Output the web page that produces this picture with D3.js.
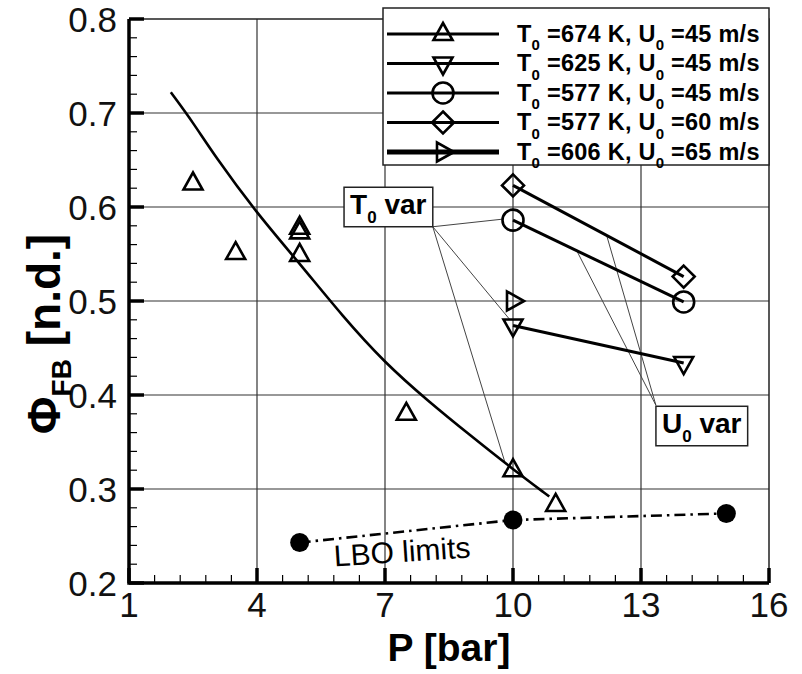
<!DOCTYPE html>
<html>
<head>
<meta charset="utf-8">
<script src="https://cdn.jsdelivr.net/npm/d3@7"></script>
<style>
  html, body { margin: 0; padding: 0; background: #fff; }
  svg { display: block; font-family: "Liberation Sans", Arial, sans-serif; }
</style>
</head>
<body>
<div id="chart"></div>
<script>
// Series: T0=674 K, U0=45 m/s (upward triangles)
const triP   = [2.5, 3.5, 5, 5, 5, 7.5, 10, 11];
const triPhi = [0.625, 0.551, 0.578, 0.573, 0.549, 0.38, 0.32, 0.283];

// Fitted trend drawn through the 674 K points
const fitP   = [1.98, 2.5, 3, 4, 5, 6, 7, 8, 9, 10, 10.85];
const fitPhi = [0.722, 0.69, 0.655, 0.593, 0.54, 0.484, 0.434, 0.394, 0.357, 0.321, 0.292];

// T0=625 K, U0=45 m/s (downward triangles)
const dtriP   = [10, 14];
const dtriPhi = [0.474, 0.434];

// T0=577 K, U0=45 m/s (circles)
const circP   = [10, 14];
const circPhi = [0.586, 0.499];

// T0=577 K, U0=60 m/s (diamonds)
const diamP   = [10, 14];
const diamPhi = [0.623, 0.526];

// T0=606 K, U0=65 m/s (right triangles)
const rtriP   = [10];
const rtriPhi = [0.5];

// LBO limits (filled circles, dash-dot)
const lboP   = [5, 10, 15];
const lboPhi = [0.243, 0.267, 0.274];

const xTicks = [1, 4, 7, 10, 13, 16];
const yTicks = [0.2, 0.3, 0.4, 0.5, 0.6, 0.7, 0.8];

const legendLabels = [
  ['674', '45'], ['625', '45'], ['577', '45'], ['577', '60'], ['606', '65']
];
const legendShapes = ['up', 'down', 'circle', 'diamond', 'right'];

const W = 802, H = 674;
const x = d3.scaleLinear().domain([1, 16]).range([129, 769]);
const y = d3.scaleLinear().domain([0.2, 0.8]).range([583, 19]);

const svg = d3.select('#chart').append('svg')
  .attr('width', W).attr('height', H);
svg.append('rect').attr('width', W).attr('height', H).attr('fill', '#fff');

// marker outlines, centred on 0,0
function markerPath(shape) {
  switch (shape) {
    case 'up': return 'M0,-11L9.5,6L-9.5,6Z';
    case 'down': return 'M0,11L9.5,-6L-9.5,-6Z';
    case 'right': return 'M11,0L-6,9.5L-6,-9.5Z';
    case 'diamond': return 'M0,-11L11,0L0,11L-11,0Z';
    case 'circle': return 'M10.5,0A10.5,10.5 0 1 1 -10.5,0A10.5,10.5 0 1 1 10.5,0Z';
  }
}

// grid
const grid = svg.append('g').attr('stroke', '#333').attr('stroke-width', 1.2);
grid.selectAll('.gx').data(xTicks.slice(1, -1)).join('line')
  .attr('x1', d => x(d)).attr('x2', d => x(d))
  .attr('y1', y(0.2)).attr('y2', y(0.8));
grid.selectAll('.gy').data(yTicks.slice(1, -1)).join('line')
  .attr('x1', x(1)).attr('x2', x(16))
  .attr('y1', d => y(d)).attr('y2', d => y(d));

// frame top/right
svg.append('path')
  .attr('d', `M${x(1)},${y(0.8)}H${x(16)}V${y(0.2)}`)
  .attr('fill', 'none').attr('stroke', '#222').attr('stroke-width', 1.5);

// minor ticks
const xMinor = d3.range(0, 25).map(i => 1 + i * 0.6).filter(v => v <= 16.001);
const yMinor = d3.range(0, 31).map(i => 0.2 + i * 0.02);
const ticks = svg.append('g').attr('stroke', '#000');
ticks.selectAll('.xm').data(xMinor).join('line')
  .attr('stroke-width', 1.2)
  .attr('x1', d => x(d)).attr('x2', d => x(d))
  .attr('y1', y(0.2)).attr('y2', y(0.2) - 8);
ticks.selectAll('.ym').data(yMinor).join('line')
  .attr('stroke-width', 1.2)
  .attr('y1', d => y(d)).attr('y2', d => y(d))
  .attr('x1', x(1)).attr('x2', x(1) + 8);
ticks.selectAll('.xM').data(xTicks).join('line')
  .attr('stroke-width', 3.5)
  .attr('x1', d => x(d)).attr('x2', d => x(d))
  .attr('y1', y(0.2)).attr('y2', y(0.2) - 15);
ticks.selectAll('.yM').data(yTicks).join('line')
  .attr('stroke-width', 3.5)
  .attr('y1', d => y(d)).attr('y2', d => y(d))
  .attr('x1', x(1)).attr('x2', x(1) + 15);

// main axis lines
svg.append('path')
  .attr('d', `M${x(1)},${y(0.8)}V${y(0.2)}H${x(16)}`)
  .attr('fill', 'none').attr('stroke', '#000').attr('stroke-width', 3.5);

// tick labels
svg.append('g').selectAll('text').data(yTicks).join('text')
  .attr('x', x(1) - 12).attr('y', d => y(d)).attr('dy', '0.36em')
  .attr('text-anchor', 'end').style('font-size', '35px').attr('fill', '#111')
  .text(d => d.toFixed(1));
svg.append('g').selectAll('text').data(xTicks).join('text')
  .attr('x', d => x(d)).attr('y', y(0.2) + 34)
  .attr('text-anchor', 'middle').style('font-size', '35px').attr('fill', '#111')
  .text(d => d);

// axis titles
svg.append('text')
  .attr('x', 449).attr('y', 661).attr('text-anchor', 'middle')
  .style('font-size', '39px').style('font-weight', '700')
  .text('P [bar]');
const yt = svg.append('text')
  .attr('transform', 'translate(60,334) rotate(-90)')
  .attr('text-anchor', 'middle')
  .style('font-size', '46px').style('font-weight', '700');
yt.append('tspan').text('Φ');
yt.append('tspan').attr('dy', 11).style('font-size', '28px').text('FB');
yt.append('tspan').attr('dy', -11).text(' [n.d.]');

// leader lines for annotations
const leaders = svg.append('g').attr('stroke', '#444').attr('stroke-width', 1);
const t0Corner = [8.12, 0.579];
const t0Targets = [[9.74, 0.587], [9.93, 0.48], [9.82, 0.327]];
leaders.selectAll('.t0').data(t0Targets).join('line')
  .attr('x1', x(t0Corner[0])).attr('y1', y(t0Corner[1]))
  .attr('x2', d => x(d[0])).attr('y2', d => y(d[1]));
const u0Corner = [13.35, 0.389];
const u0Targets = [[11.5, 0.553], [12.2, 0.569]];
leaders.selectAll('.u0').data(u0Targets).join('line')
  .attr('x1', x(u0Corner[0])).attr('y1', y(u0Corner[1]))
  .attr('x2', d => x(d[0])).attr('y2', d => y(d[1]));

// trend curve
svg.append('path')
  .datum(d3.zip(fitP, fitPhi))
  .attr('fill', 'none').attr('stroke', '#000').attr('stroke-width', 2.6)
  .attr('d', d3.line().x(d => x(d[0])).y(d => y(d[1])).curve(d3.curveBasis));

// connecting lines
const pairLine = d3.line().x(d => x(d[0])).y(d => y(d[1]));
[[dtriP, dtriPhi], [circP, circPhi], [diamP, diamPhi]].forEach(([p, v]) => {
  svg.append('path').datum(d3.zip(p, v))
    .attr('fill', 'none').attr('stroke', '#000').attr('stroke-width', 3)
    .attr('d', pairLine);
});

// LBO dash-dot
svg.append('path').datum(d3.zip(lboP, lboPhi))
  .attr('fill', 'none').attr('stroke', '#000').attr('stroke-width', 2.6)
  .attr('stroke-dasharray', '11,5,2.5,5')
  .attr('d', pairLine);

// markers
function drawMarkers(p, v, shape) {
  svg.append('g').selectAll('path').data(d3.zip(p, v)).join('path')
    .attr('transform', d => `translate(${x(d[0])},${y(d[1])})`)
    .attr('d', markerPath(shape))
    .attr('fill', 'none').attr('stroke', '#000').attr('stroke-width', 2.6);
}
drawMarkers(triP, triPhi, 'up');
drawMarkers(dtriP, dtriPhi, 'down');
drawMarkers(circP, circPhi, 'circle');
drawMarkers(diamP, diamPhi, 'diamond');
drawMarkers(rtriP, rtriPhi, 'right');

svg.append('g').selectAll('circle').data(d3.zip(lboP, lboPhi)).join('circle')
  .attr('cx', d => x(d[0])).attr('cy', d => y(d[1])).attr('r', 9.5)
  .attr('fill', '#000');

// LBO label
svg.append('text')
  .attr('transform', `translate(${x(7.4)},${y(0.2335)}) rotate(-3.8)`)
  .attr('text-anchor', 'middle').attr('dy', '0.35em')
  .style('font-size', '30px').attr('fill', '#000')
  .text('LBO limits');

// annotation boxes
function annoBox(x0, x1, y0, y1, letter) {
  const g = svg.append('g');
  g.append('rect')
    .attr('x', x(x0)).attr('y', y(y0))
    .attr('width', x(x1) - x(x0)).attr('height', y(y1) - y(y0))
    .attr('fill', '#fff').attr('stroke', '#222').attr('stroke-width', 1.5);
  const t = g.append('text')
    .attr('x', x(x0) + 6).attr('y', y(y1) - 13)
    .style('font-size', '28px').style('font-weight', '700');
  t.append('tspan').text(letter);
  t.append('tspan').attr('dy', 9).style('font-size', '17px').text('0');
  t.append('tspan').attr('dy', -9).text(' var');
}
annoBox(6.04, 8.12, 0.621, 0.579, 'T');
annoBox(13.35, 15.5, 0.388, 0.346, 'U');

// legend
const lg = svg.append('g');
lg.append('rect')
  .attr('x', 383).attr('y', 8).attr('width', x(16) - 383).attr('height', 157)
  .attr('fill', '#fff').attr('stroke', '#222').attr('stroke-width', 1.5);
const rows = lg.selectAll('.row').data(legendLabels).join('g')
  .attr('transform', (d, i) => `translate(0,${34 + i * 29.5})`);
rows.append('line')
  .attr('x1', 387).attr('x2', 499).attr('y1', 0).attr('y2', 0)
  .attr('stroke', '#000').attr('stroke-width', (d, i) => i === 4 ? 5 : 3.2);
rows.append('path')
  .attr('transform', 'translate(443,0)')
  .attr('d', (d, i) => markerPath(legendShapes[i]))
  .attr('fill', 'none').attr('stroke', '#000').attr('stroke-width', 2.6);
const lt = rows.append('text')
  .attr('x', 517).attr('y', 7.5)
  .style('font-size', '23.5px').style('font-weight', '700')
  .style('letter-spacing', '0.25px');
lt.append('tspan').text('T');
lt.append('tspan').attr('dy', 8.5).style('font-size', '15px').text('0');
lt.append('tspan').attr('dy', -8.5).text(d => ` =${d[0]} K, U`);
lt.append('tspan').attr('dy', 8.5).style('font-size', '15px').text('0');
lt.append('tspan').attr('dy', -8.5).text(d => ` =${d[1]} m/s`);
</script>
</body>
</html>
